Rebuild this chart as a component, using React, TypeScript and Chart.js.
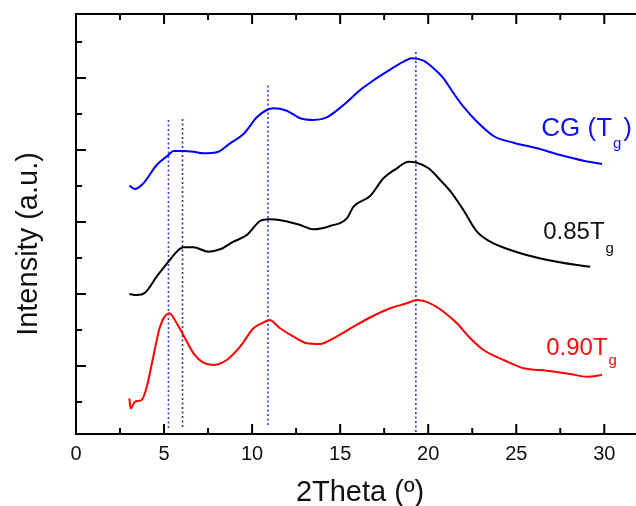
import React, { useEffect, useRef } from "react";
import { Chart, registerables } from "chart.js";

Chart.register(...registerables);

// 2Theta (degrees) and intensity (a.u., curves offset vertically)
const cgX = [3.03, 3.35, 3.83, 4.58, 5.25, 5.53, 6.1, 6.67, 7.23, 7.99, 8.75, 9.51, 10.27, 10.83, 11.21, 11.97, 12.73, 13.48, 14.24, 15.19, 16.14, 16.7, 17.65, 18.6, 19.07, 19.73, 20.3, 20.87, 21.44, 22.0, 22.77, 23.71, 24.85, 26.18, 27.5, 28.82, 29.87];
const cgY = [252.3, 249, 254.7, 273, 283, 287, 287, 286.3, 284.7, 285.7, 294.7, 304, 320.7, 328, 329.7, 327.3, 319.7, 318, 320.7, 333, 348, 355.3, 366.3, 376.3, 379.7, 377.3, 369.7, 359.7, 344.7, 331.3, 316.3, 302, 295.3, 289.7, 283, 277.3, 274];

const t85X = [3.03, 3.45, 3.92, 4.58, 5.25, 5.72, 6.1, 6.67, 7.52, 8.18, 8.94, 9.7, 10.45, 10.93, 11.78, 12.73, 13.48, 14.43, 15.38, 15.76, 16.7, 17.46, 18.22, 18.88, 19.36, 20.02, 20.68, 21.35, 22.0, 22.77, 23.52, 24.66, 25.98, 27.31, 28.45, 29.2];
const t85Y = [144, 143, 145.3, 161.3, 176.3, 186.3, 190.7, 190.7, 186.3, 188.7, 196.3, 203, 217, 218.7, 217.3, 213, 208.7, 212, 219.7, 231.3, 242, 259.7, 269.7, 276.3, 275.3, 269.7, 258, 244.7, 228, 206.3, 196.3, 188, 181.3, 176.3, 173, 171.3];

const t90X = [3.03, 3.1, 3.35, 3.73, 4.02, 4.39, 4.77, 5.3, 5.72, 6.19, 6.67, 7.23, 7.8, 8.56, 9.32, 10.08, 10.64, 10.98, 11.59, 12.35, 13.11, 13.86, 14.62, 15.76, 16.7, 17.84, 18.79, 19.36, 20.11, 20.87, 21.63, 22.39, 23.14, 24.28, 25.42, 26.74, 28.07, 29.02, 29.87];
const t90Y = [39.7, 29.7, 36.3, 38, 51.3, 81.3, 111.3, 124.7, 114.7, 99.7, 84.7, 75.3, 73, 78, 91.3, 109.7, 115.3, 118, 109.7, 101.3, 94.7, 94, 99.7, 111.3, 120.5, 129.7, 134.7, 138, 134.7, 126.3, 114.7, 99.7, 88, 78, 69.7, 67.3, 64, 61.3, 63];

// vertical reference (dotted) lines
const refX = [5.25, 6.05, 10.9, 19.3];
const refTop = [318, 319, 354, 386];
const refBottom = [10, 11, 13, 6];
const refColors = ["#3a3af0", "#34349a", "#3a3af0", "#34349a"];

// axis ticks
const xMajor = [0, 5, 10, 15, 20, 25, 30];
const xMinor = [2.5, 7.5, 12.5, 17.5, 22.5, 27.5];
const yMajor = [72, 144, 216, 288, 360];
const yMinor = [36, 108, 180, 252, 324, 396];

const FONT = "'Liberation Sans', Arial, sans-serif";

const framePlugin = {
  id: "frame",
  afterDraw(chart: any) {
    const ctx = chart.ctx;
    const { left, right, top, bottom } = chart.chartArea;
    const xs = chart.scales.x;
    const ys = chart.scales.y;
    ctx.save();
    ctx.strokeStyle = "#000";
    ctx.lineWidth = 2;
    ctx.beginPath();
    ctx.moveTo(left - 1, top);
    ctx.lineTo(right, top);
    ctx.stroke();
    const tick = (x1: number, y1: number, x2: number, y2: number) => {
      ctx.beginPath();
      ctx.moveTo(x1, y1);
      ctx.lineTo(x2, y2);
      ctx.stroke();
    };
    xMajor.forEach((v) => {
      const p = xs.getPixelForValue(v);
      tick(p, bottom, p, bottom - 10);
      tick(p, top, p, top + 10);
    });
    xMinor.forEach((v) => {
      const p = xs.getPixelForValue(v);
      tick(p, bottom, p, bottom - 6);
      tick(p, top, p, top + 6);
    });
    yMajor.forEach((v) => {
      const p = ys.getPixelForValue(v);
      tick(left, p, left + 10, p);
    });
    yMinor.forEach((v) => {
      const p = ys.getPixelForValue(v);
      tick(left, p, left + 6, p);
    });

    // axis titles
    ctx.fillStyle = "#111";
    ctx.font = `29px ${FONT}`;
    ctx.textAlign = "center";
    ctx.textBaseline = "alphabetic";
    ctx.fillText("2Theta (º)", 360, 501);
    ctx.save();
    ctx.translate(37, 244);
    ctx.rotate(-Math.PI / 2);
    ctx.fillText("Intensity (a.u.)", 0, 0);
    ctx.restore();

    // series labels
    const label = (main: string, sub: string, tail: string, xv: number, yv: number, color: string, subDy: number, size: number) => {
      const px = xs.getPixelForValue(xv);
      const py = ys.getPixelForValue(yv);
      ctx.fillStyle = color;
      ctx.textAlign = "left";
      ctx.font = `${size}px ${FONT}`;
      ctx.fillText(main, px, py);
      const w = ctx.measureText(main).width;
      ctx.font = `15px ${FONT}`;
      ctx.fillText(sub, px + w + 1, py + subDy);
      const ws = ctx.measureText(sub).width;
      if (tail) {
        ctx.font = `${size}px ${FONT}`;
        ctx.fillText(tail, px + w + ws + 3, py);
      }
    };
    label("CG (T", "g", ")", 26.42, 302, "#1010f0", 12, 26);
    label("0.85T", "g", "", 26.53, 199, "#111", 14, 24);
    label("0.90T", "g", "", 26.7, 83, "#f01010", 10, 24);
    ctx.restore();
  },
};

export default function App() {
  const ref = useRef<HTMLCanvasElement | null>(null);
  useEffect(() => {
    if (!ref.current) return;
    const toPts = (xs: number[], ys: number[]) => xs.map((x, i) => ({ x, y: ys[i] }));
    const datasets: any[] = [
      { data: toPts(cgX, cgY), borderColor: "#0000ff", borderWidth: 2, cubicInterpolationMode: "monotone" },
      { data: toPts(t85X, t85Y), borderColor: "#000000", borderWidth: 2, cubicInterpolationMode: "monotone" },
      { data: toPts(t90X, t90Y), borderColor: "#ff0000", borderWidth: 2, cubicInterpolationMode: "monotone" },
    ];
    refX.forEach((x, i) => {
      datasets.push({
        data: [
          { x, y: refBottom[i] },
          { x, y: refTop[i] },
        ],
        borderColor: refColors[i],
        borderWidth: 1.6,
        borderDash: [2, 2.5],
        tension: 0,
      });
    });
    const chart = new Chart(ref.current, {
      type: "line",
      data: { datasets },
      options: {
        animation: false,
        responsive: false,
        maintainAspectRatio: false,
        layout: { padding: { top: 14, left: 0, right: 0, bottom: 0 } },
        plugins: { legend: { display: false }, tooltip: { enabled: false } },
        elements: { point: { radius: 0 } },
        scales: {
          x: {
            type: "linear",
            min: 0,
            max: 31.8,
            afterBuildTicks: (s: any) => {
              s.ticks = xMajor.map((v) => ({ value: v }));
            },
            afterFit: (s: any) => {
              s.height = 72;
            },
            grid: { display: false, drawTicks: false },
            border: { display: true, color: "#000", width: 2 },
            ticks: {
              font: { size: 20, family: FONT },
              color: "#111",
              padding: 8,
              maxRotation: 0,
              autoSkip: false,
            },
          },
          y: {
            type: "linear",
            min: 4,
            max: 424,
            afterBuildTicks: (s: any) => {
              s.ticks = yMinor.concat(yMajor).sort((a, b) => a - b).map((v) => ({ value: v }));
            },
            afterFit: (s: any) => {
              s.width = 76;
            },
            grid: { display: false, drawTicks: false },
            border: { display: true, color: "#000", width: 2 },
            ticks: { display: false },
          },
        },
      } as any,
      plugins: [framePlugin],
    });
    return () => chart.destroy();
  }, []);
  return (
    <div style={{ position: "absolute", left: 0, top: 0, width: 636, height: 506, background: "#fff" }}>
      <canvas ref={ref} width={636} height={506} style={{ display: "block" }} />
    </div>
  );
}
